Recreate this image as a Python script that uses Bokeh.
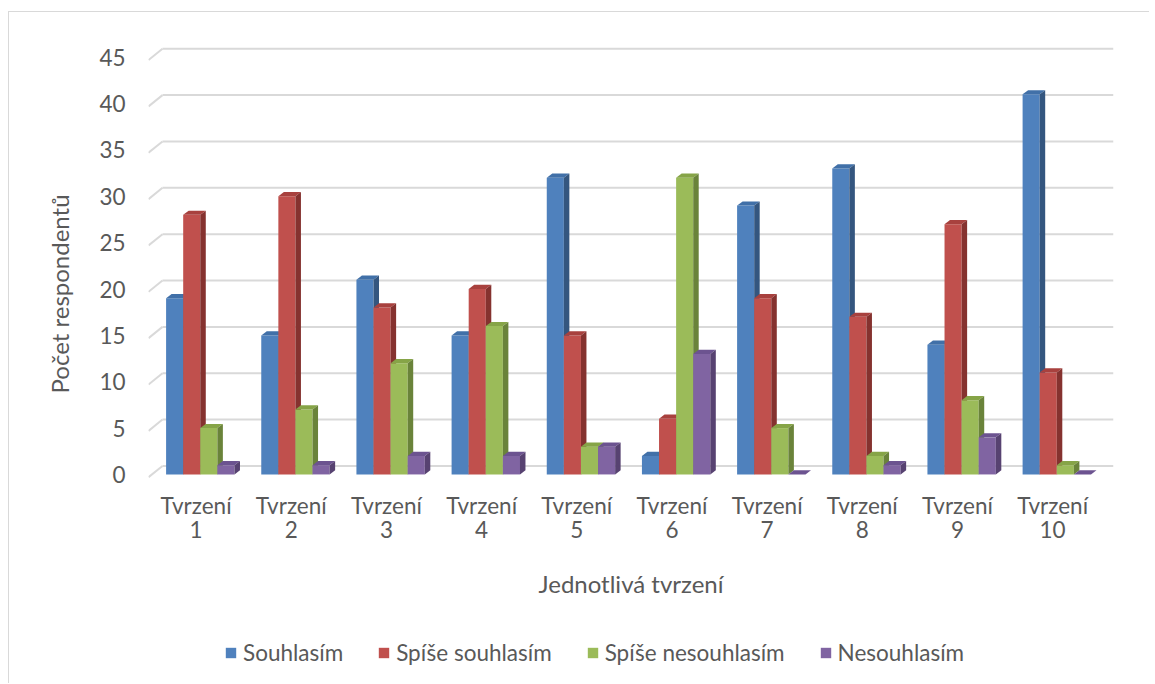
from bokeh.plotting import figure
from bokeh.models import Legend, LegendItem, FixedTicker, Range1d, Title, LinearAxis
from bokeh.embed import file_html
from bokeh.resources import INLINE

categories = ["Tvrzení 1", "Tvrzení 2", "Tvrzení 3", "Tvrzení 4", "Tvrzení 5",
              "Tvrzení 6", "Tvrzení 7", "Tvrzení 8", "Tvrzení 9", "Tvrzení 10"]
souhlasim = [19, 15, 21, 15, 32, 2, 29, 33, 14, 41]
spise_souhlasim = [28, 30, 18, 20, 15, 6, 19, 17, 27, 11]
spise_nesouhlasim = [5, 7, 12, 16, 3, 32, 5, 2, 8, 1]
nesouhlasim = [1, 1, 2, 2, 3, 13, 0, 1, 4, 0]
series_names = ["Souhlasím", "Spíše souhlasím", "Spíše nesouhlasím", "Nesouhlasím"]
y_ticks = [0, 5, 10, 15, 20, 25, 30, 35, 40, 45]

series = [souhlasim, spise_souhlasim, spise_nesouhlasim, nesouhlasim]
front_colors = ["#4F81BD", "#C0504D", "#9BBB59", "#8064A2"]
top_colors = ["#4170A8", "#A8413E", "#86A447", "#6C5390"]
side_colors = ["#34567F", "#85322F", "#6A833A", "#574271"]

FONT = "Lato"
TXT = "#595959"

px_per_x = 95.2
px_per_y = 9.27
x_end = 10.14
axis_y = -0.54            # where the category axis sits
y_start, y_end = -22.55, 46.7   # frame extends down to hold the legend
FW = int(round(x_end * px_per_x))
FH = int(round((y_end - y_start) * px_per_y))

p = figure(frame_width=FW, frame_height=FH, output_backend="svg", toolbar_location=None,
           x_range=Range1d(0, x_end), y_range=Range1d(y_start, y_end),
           x_axis_location=None,
           min_border_left=139, min_border_right=36,
           min_border_top=29, min_border_bottom=0,
           margin=(11, 0, 0, 8),
           styles={"border-left": "1.5px solid #d9d9d9", "border-top": "1.5px solid #d9d9d9"})
p.outline_line_color = None
p.xgrid.visible = False
p.ygrid.visible = False
p.background_fill_color = "white"
p.border_fill_color = "white"

# 3D-like gridlines (side wall stub + back wall)
wall_dx = 14 / px_per_x
wall_dy = 8.5 / px_per_y
front_dy = -0.3
p.segment(x0=[0] * len(y_ticks), y0=[v + front_dy for v in y_ticks],
          x1=[wall_dx] * len(y_ticks), y1=[v + wall_dy for v in y_ticks],
          line_color="#d9d9d9", line_width=2)
p.segment(x0=[wall_dx] * len(y_ticks), y0=[v + wall_dy for v in y_ticks],
          x1=[x_end] * len(y_ticks), y1=[v + wall_dy for v in y_ticks],
          line_color="#d9d9d9", line_width=2)

bw = 17.1 / px_per_x
g0 = -30 / px_per_x
ddx = 5.5 / px_per_x
ddy = 4.2 / px_per_y

items = []
for j, vals in enumerate(series):
    lefts = [i + 0.5 + g0 + j * bw for i in range(len(categories))]
    centers = [l + bw / 2 for l in lefts]
    r = p.vbar(x=centers, width=bw, top=vals, bottom=0,
               fill_color=front_colors[j], line_color=None)
    top_xs = [[l, l + bw, l + bw + ddx, l + ddx] for l in lefts]
    top_ys = [[v, v, v + ddy, v + ddy] for v in vals]
    p.patches(xs=top_xs, ys=top_ys, fill_color=top_colors[j], line_color=None)
    side_xs = [[l + bw, l + bw, l + bw + ddx, l + bw + ddx] for l in lefts]
    side_ys = [[0, v, v + ddy, ddy] for v in vals]
    p.patches(xs=side_xs, ys=side_ys, fill_color=side_colors[j], line_color=None)
    items.append(LegendItem(label=series_names[j], renderers=[r]))

# x axes: first line of category labels, then second line + title
cat_ticks = [i + 0.5 for i in range(len(categories))]
ax1 = LinearAxis(ticker=FixedTicker(ticks=cat_ticks), fixed_location=axis_y,
                 major_label_overrides={t: c.split(" ")[0] for t, c in zip(cat_ticks, categories)},
                 major_label_standoff=7)
ax2 = LinearAxis(ticker=FixedTicker(ticks=cat_ticks), fixed_location=axis_y,
                 major_label_overrides={t: c.split(" ")[1] for t, c in zip(cat_ticks, categories)},
                 major_label_standoff=36, axis_label="Jednotlivá tvrzení", axis_label_standoff=27)
p.add_layout(ax1, "below")
p.add_layout(ax2, "below")

p.yaxis.ticker = FixedTicker(ticks=y_ticks)
p.yaxis.major_label_standoff = 17
for ax in (ax1, ax2, p.yaxis[0]):
    ax.axis_line_color = None
    ax.major_tick_line_color = None
    ax.minor_tick_line_color = None
    ax.major_label_text_font = FONT
    ax.major_label_text_font_size = "22.5px"
    ax.major_label_text_color = TXT
    ax.axis_label_text_font = FONT
    ax.axis_label_text_font_size = "24px"
    ax.axis_label_text_color = TXT
    ax.axis_label_text_font_style = "normal"

ytitle = Title(text="Počet respondentů", align="left", offset=290,
               text_font=FONT, text_font_size="24px", text_color=TXT,
               text_font_style="normal", standoff=45)
p.add_layout(ytitle, "left")

legend = Legend(items=items, orientation="horizontal", location=(76, 17),
                border_line_color=None, background_fill_alpha=0,
                label_text_font=FONT, label_text_font_size="22.5px", label_text_color=TXT,
                glyph_width=13, glyph_height=13, label_standoff=6, spacing=34,
                padding=0, margin=0)
p.add_layout(legend, "center")

open("out.html", "w").write(file_html(p, INLINE))
